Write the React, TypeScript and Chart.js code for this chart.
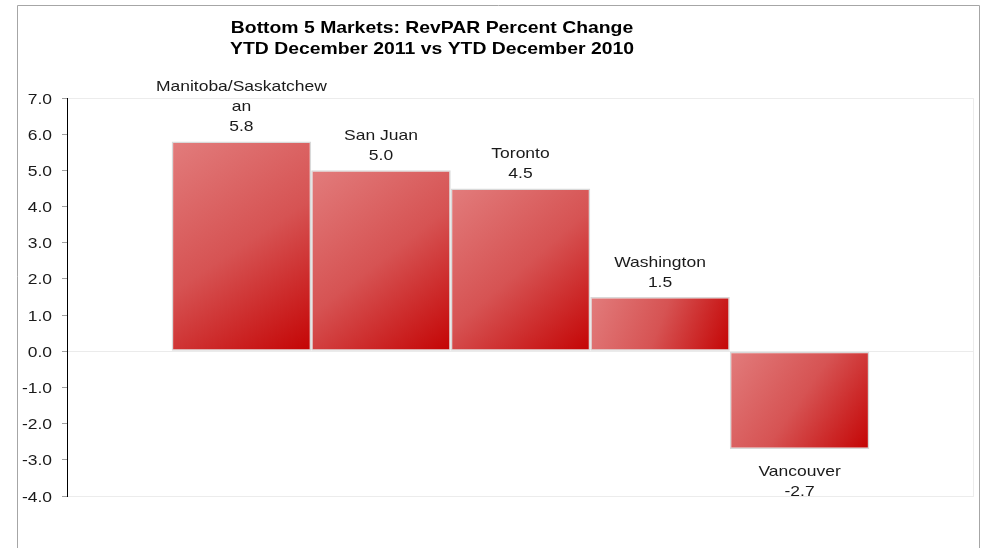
import React, { useEffect, useRef } from "react";
import { Chart, registerables } from "chart.js";

Chart.register(...registerables);

const TITLE_LINES = [
  "Bottom 5 Markets: RevPAR Percent Change",
  "YTD December 2011 vs YTD December 2010",
];
const MARKETS = ["Manitoba/Saskatchewan", "San Juan", "Toronto", "Washington", "Vancouver"];
const REVPAR_CHANGE = [5.8, 5.0, 4.5, 1.5, -2.7];
const Y_MIN = -4;
const Y_MAX = 7;
const Y_STEP = 1;

const FONT = "'Liberation Sans', Arial, Helvetica, sans-serif";
const W = 982;
const H = 548;
const SX = 1.165; // horizontal text stretch seen in the reference

function stretchText(ctx: CanvasRenderingContext2D, text: string, x: number, y: number, sx: number) {
  ctx.save();
  ctx.translate(x, y);
  ctx.scale(sx, 1);
  ctx.fillText(text, 0, 0);
  ctx.restore();
}

function wrapText(ctx: CanvasRenderingContext2D, text: string, maxW: number, sx: number): string[] {
  const m = (s: string) => ctx.measureText(s).width * sx;
  const words = text.split(" ");
  const lines: string[] = [];
  let cur = "";
  for (const w of words) {
    const test = cur ? cur + " " + w : w;
    if (m(test) <= maxW) {
      cur = test;
      continue;
    }
    if (cur) {
      lines.push(cur);
      cur = "";
    }
    let piece = "";
    for (const ch of w) {
      if (piece && m(piece + ch) > maxW) {
        lines.push(piece);
        piece = ch;
      } else piece += ch;
    }
    cur = piece;
  }
  if (cur) lines.push(cur);
  return lines;
}

const framePlugin = {
  id: "frame",
  beforeDraw(chart: any) {
    const ctx = chart.ctx as CanvasRenderingContext2D;
    ctx.save();
    ctx.fillStyle = "#ffffff";
    ctx.fillRect(0, 0, chart.width, chart.height);
    ctx.strokeStyle = "#a6a6a6";
    ctx.lineWidth = 1;
    ctx.beginPath();
    ctx.moveTo(17.5, chart.height);
    ctx.lineTo(17.5, 5.5);
    ctx.lineTo(979.5, 5.5);
    ctx.lineTo(979.5, chart.height);
    ctx.stroke();
    const ca = chart.chartArea;
    ctx.strokeStyle = "#ececec";
    ctx.strokeRect(ca.left + 0.5, ca.top + 0.5, ca.right - ca.left - 1, ca.bottom - ca.top);
    ctx.fillStyle = "#000000";
    ctx.font = `bold 17px ${FONT}`;
    ctx.textAlign = "center";
    ctx.textBaseline = "alphabetic";
    TITLE_LINES.forEach((t, i) => stretchText(ctx, t, 432, 33 + i * 21, 1.14));
    ctx.restore();
  },
};

const tickLabelPlugin = {
  id: "tickLabels",
  afterDraw(chart: any) {
    const ctx = chart.ctx as CanvasRenderingContext2D;
    const scale = chart.scales.y;
    ctx.save();
    ctx.font = `15px ${FONT}`;
    ctx.fillStyle = "#1a1a1a";
    ctx.textAlign = "right";
    ctx.textBaseline = "alphabetic";
    scale.ticks.forEach((t: any) => {
      const y = scale.getPixelForValue(t.value);
      stretchText(ctx, Number(t.value).toFixed(1), scale.right - 15, y + 5.5, SX);
    });
    ctx.restore();
  },
};

const gradientPlugin = {
  id: "barGradient",
  beforeDatasetsDraw(chart: any) {
    const ctx = chart.ctx as CanvasRenderingContext2D;
    chart.data.datasets.forEach((_ds: any, i: number) => {
      const meta = chart.getDatasetMeta(i);
      meta.data.forEach((el: any) => {
        const { x, y, base, width } = el.getProps(["x", "y", "base", "width"], true);
        const left = x - width / 2;
        const right = x + width / 2;
        const top = Math.min(y, base);
        const bottom = Math.max(y, base);
        const g = ctx.createLinearGradient(left, top, right, bottom);
        g.addColorStop(0, "#e27c7c");
        g.addColorStop(0.5, "#d65353");
        g.addColorStop(1, "#c40404");
        el.options = Object.assign({}, el.options, { backgroundColor: g });
      });
    });
  },
};

const labelPlugin = {
  id: "barLabels",
  afterDatasetsDraw(chart: any) {
    const ctx = chart.ctx as CanvasRenderingContext2D;
    const ca = chart.chartArea;
    ctx.save();
    ctx.beginPath();
    ctx.rect(0, 0, chart.width, ca.bottom);
    ctx.clip();
    ctx.font = `15px ${FONT}`;
    ctx.fillStyle = "#1a1a1a";
    ctx.textAlign = "center";
    ctx.textBaseline = "alphabetic";
    chart.data.datasets.forEach((ds: any, i: number) => {
      const meta = chart.getDatasetMeta(i);
      const el = meta.data[0];
      if (!el) return;
      const value = ds.data[0] as number;
      const lines = [...wrapText(ctx, ds.label, 177, SX), value.toFixed(1)];
      if (value >= 0) {
        const lastBase = el.y - 10.5;
        lines.forEach((l, k) => stretchText(ctx, l, el.x, lastBase - (lines.length - 1 - k) * 20, SX));
      } else {
        const firstBase = el.y + 27.5;
        lines.forEach((l, k) => stretchText(ctx, l, el.x, firstBase + k * 20, SX));
      }
    });
    ctx.restore();
  },
};

export default function App() {
  const ref = useRef<HTMLCanvasElement | null>(null);

  useEffect(() => {
    if (!ref.current) return;
    const chart = new Chart(ref.current, {
      type: "bar",
      data: {
        labels: [""],
        datasets: MARKETS.map((m, i) => ({
          label: m,
          data: [REVPAR_CHANGE[i]],
          backgroundColor: "#d65353",
          borderColor: "#d9d9d9",
          borderWidth: 1.5,
          borderSkipped: false,
          categoryPercentage: 5 / 6.5,
          barPercentage: 1,
        })),
      },
      options: {
        responsive: false,
        animation: false,
        devicePixelRatio: 1,
        layout: { padding: { left: 0, top: 98, right: 8, bottom: 52 } },
        plugins: {
          legend: { display: false },
          title: { display: false },
          tooltip: { enabled: false },
        },
        scales: {
          x: { display: false, grid: { display: false } },
          y: {
            min: Y_MIN,
            max: Y_MAX,
            ticks: {
              stepSize: Y_STEP,
              display: false,
            },
            grid: {
              color: (c: any) => (c.tick && c.tick.value === 0 ? "#ebebeb" : "rgba(0,0,0,0)"),
              tickColor: "#a0a0a0",
              tickLength: 5,
              drawTicks: true,
            },
            border: { color: "#000000", width: 1 },
            afterFit: (s: any) => {
              s.width = 67;
            },
          },
        },
      },
      plugins: [framePlugin, gradientPlugin, labelPlugin, tickLabelPlugin],
    } as any);
    return () => chart.destroy();
  }, []);

  return (
    <div style={{ position: "absolute", left: 0, top: 0, width: W, height: H }}>
      <canvas ref={ref} width={W} height={H} style={{ display: "block" }} />
    </div>
  );
}
